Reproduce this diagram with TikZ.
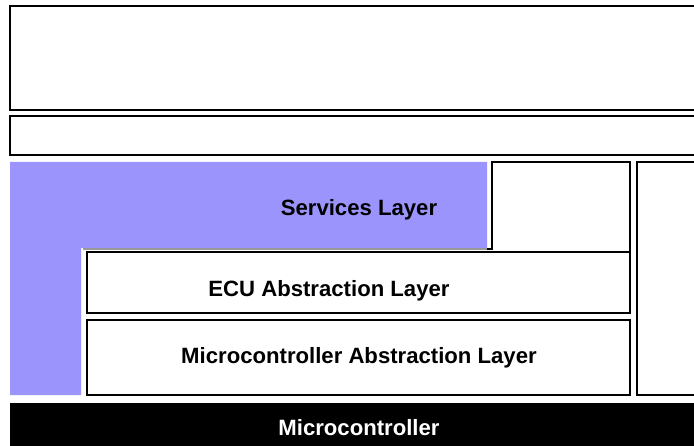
\documentclass[tikz,border=0pt]{standalone}
\usepackage{fontspec}
\setmainfont{Liberation Sans}
\usepackage{tikz}
\definecolor{servpurple}{RGB}{155,148,252}
\tikzset{
  layerbox/.style={draw=black, line width=0.6pt, fill=white},
  layertext/.style={font=\fontsize{12.6}{14}\selectfont\bfseries, inner sep=0pt}
}

\begin{document}
\begin{tikzpicture}[x=0.02cm, y=-0.02cm]
			%%%%% START %%%%%
			\clip (0, 0) rectangle (694, 446);
			\fill[white] (0, 0) rectangle (694, 446);
			
			% upper layers
			\draw[layerbox] (10, 6) rectangle (710, 110);
			\draw[layerbox] (10, 116) rectangle (710, 155);
			
			% services layer
			\fill[servpurple] (10, 162) -- (487, 162) -- (487, 248) -- (81, 248) -- (81, 395) -- (10, 395) -- cycle;
			\draw[line width=0.6pt, fill=white] (83, 249) -- (492, 249) -- (492, 162) -- (630, 162) -- (630, 252);
			\draw[black!40, line width=0.6pt] (83, 249) -- (487, 249);
			\node[layertext] (serv) at (359, 210) {Services Layer};
			
			% abstraction layers
			\draw[layerbox] (87, 252) rectangle (630, 313);
			\node[layertext] (ecu) at (329, 291) {ECU Abstraction Layer};
			
			\draw[layerbox] (87, 320) rectangle (630, 395);
			\node[layertext] (mcal) at (359, 358) {Microcontroller Abstraction Layer};
			
			% right column
			\draw[layerbox] (637, 162) rectangle (710, 395);
			
			% hardware
			\fill[black] (10, 403) rectangle (710, 450);
			\node[layertext, text=white] (mc) at (359, 428) {Microcontroller};
			
			%%%%% END %%%%%
		\end{tikzpicture}
\end{document}
